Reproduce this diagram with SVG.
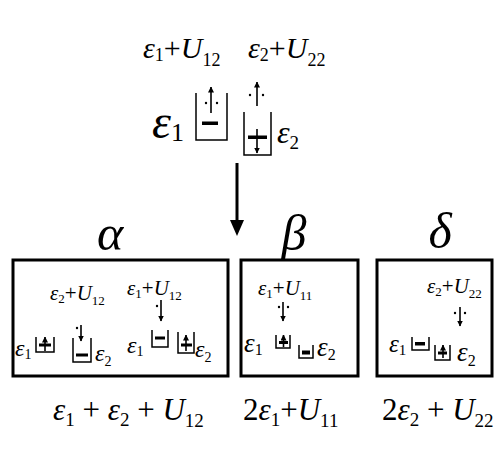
<svg xmlns="http://www.w3.org/2000/svg" width="498" height="450" viewBox="0 0 498 450" font-family="'Liberation Serif', 'DejaVu Serif', serif">
<defs>
<style>
text{font-family:"Liberation Serif","DejaVu Serif",serif;fill:#000}
.i{font-style:italic}
.well{fill:none;stroke:#000;stroke-width:1.5}
.box{fill:none;stroke:#000;stroke-width:3}
.ar{stroke:#000;stroke-width:1.6;fill:none;marker-end:url(#ah)}
</style>
<marker id="ah" viewBox="0 0 6 6" refX="5.5" refY="3" markerWidth="6" markerHeight="6" orient="auto" markerUnits="userSpaceOnUse"><path d="M0,0 L6,3 L0,6 z" fill="#000"/></marker>
</defs>
<rect width="498" height="450" fill="#fff"/>

<g id="initial-state">
<text x="143" y="58" font-size="30"><tspan class="i">ε</tspan><tspan font-size="18" dy="3">1</tspan><tspan dy="-3">+</tspan><tspan class="i">U</tspan><tspan font-size="18" dy="8">12</tspan></text>
<text x="248" y="58" font-size="30"><tspan class="i">ε</tspan><tspan font-size="18" dy="3">2</tspan><tspan dy="-3">+</tspan><tspan class="i">U</tspan><tspan font-size="18" dy="8">22</tspan></text>
<text x="152" y="138" font-size="48"><tspan class="i">ε</tspan><tspan font-size="26" dy="3">1</tspan></text>
<path class="well" d="M196 93V140H227V93"/>
<rect x="202" y="121.5" width="16" height="3.5"/>
<line class="ar" x1="211" y1="113" x2="211" y2="87"/>
<circle cx="206" cy="103" r="1.2"/><circle cx="217" cy="103" r="1.2"/>
<path class="well" d="M244 112V155H271V112"/>
<rect x="248" y="135.5" width="19" height="3.5"/>
<line class="ar" x1="257" y1="129" x2="257" y2="153"/>
<line class="ar" x1="257" y1="106" x2="257" y2="82"/>
<circle cx="250" cy="95" r="1.2"/><circle cx="263" cy="95" r="1.2"/>
<text x="277" y="143" font-size="32"><tspan class="i">ε</tspan><tspan font-size="19" dy="6">2</tspan></text>
</g>

<g id="connectors">
<line x1="237" y1="163" x2="237" y2="222" stroke="#000" stroke-width="3"/>
<polygon points="230,220 244,220 237,236" fill="#000"/>
</g>

<g id="alpha">
<text class="i" x="110" y="250" font-size="50" text-anchor="middle">α</text>
<rect class="box" x="13" y="260" width="215" height="116"/>
<text x="50" y="300" font-size="21"><tspan class="i">ε</tspan><tspan font-size="13" dy="3">2</tspan><tspan dy="-3">+</tspan><tspan class="i">U</tspan><tspan font-size="13" dy="5">12</tspan></text>
<text x="127" y="295" font-size="21"><tspan class="i">ε</tspan><tspan font-size="13" dy="3">1</tspan><tspan dy="-3">+</tspan><tspan class="i">U</tspan><tspan font-size="13" dy="5">12</tspan></text>
<text x="15" y="356" font-size="24"><tspan class="i">ε</tspan><tspan font-size="14" dy="3">1</tspan></text>
<path class="well" d="M36 337V352H54V337"/>
<rect x="39" y="343.5" width="12" height="3"/>
<line class="ar" x1="45" y1="351" x2="45" y2="337"/>
<path class="well" d="M73 338V362H91V338"/>
<rect x="76" y="353.5" width="12" height="3"/>
<line class="ar" x1="81" y1="325" x2="81" y2="341"/>
<circle cx="77" cy="328" r="1.2"/>
<text x="95" y="361" font-size="24"><tspan class="i">ε</tspan><tspan font-size="14" dy="5">2</tspan></text>
<line class="ar" x1="161" y1="300" x2="161" y2="321"/>
<circle cx="157" cy="306" r="1.2"/>
<text x="127" y="353" font-size="24"><tspan class="i">ε</tspan><tspan font-size="14" dy="3">1</tspan></text>
<path class="well" d="M152 330V347H168V330"/>
<rect x="155" y="336.5" width="10" height="3"/>
<path class="well" d="M178 332V353H194V332"/>
<rect x="181" y="343.5" width="11" height="3"/>
<line class="ar" x1="186" y1="351" x2="186" y2="335"/>
<text x="195" y="357" font-size="24"><tspan class="i">ε</tspan><tspan font-size="14" dy="5">2</tspan></text>
<text x="53" y="420" font-size="31"><tspan class="i">ε</tspan><tspan font-size="19" dy="6">1</tspan><tspan dy="-6"> + </tspan><tspan class="i">ε</tspan><tspan font-size="19" dy="6">2</tspan><tspan dy="-6"> + </tspan><tspan class="i">U</tspan><tspan font-size="19" dy="7">12</tspan></text>
</g>

<g id="beta">
<text class="i" x="294" y="250" font-size="50" text-anchor="middle">β</text>
<rect class="box" x="241" y="260" width="117" height="116"/>
<text x="258" y="295" font-size="21"><tspan class="i">ε</tspan><tspan font-size="13" dy="3">1</tspan><tspan dy="-3">+</tspan><tspan class="i">U</tspan><tspan font-size="13" dy="5">11</tspan></text>
<line class="ar" x1="283" y1="302" x2="283" y2="321"/>
<circle cx="279" cy="307" r="1.2"/><circle cx="288" cy="307" r="1.2"/>
<text x="244" y="352" font-size="27"><tspan class="i">ε</tspan><tspan font-size="16" dy="3">1</tspan></text>
<path class="well" d="M276 335V348H290V335"/>
<rect x="279" y="341" width="9" height="3"/>
<line class="ar" x1="283.5" y1="347" x2="283.5" y2="335"/>
<path class="well" d="M299 345V358H313V345"/>
<rect x="302" y="350.5" width="8" height="4"/>
<text x="317" y="356" font-size="27"><tspan class="i">ε</tspan><tspan font-size="16" dy="4">2</tspan></text>
<text x="243" y="420" font-size="31">2<tspan class="i">ε</tspan><tspan font-size="19" dy="6">1</tspan><tspan dy="-6">+</tspan><tspan class="i">U</tspan><tspan font-size="19" dy="7">11</tspan></text>
</g>

<g id="delta">
<text class="i" x="440" y="248" font-size="50" text-anchor="middle">δ</text>
<rect class="box" x="377" y="260" width="115" height="116"/>
<text x="427" y="293" font-size="21"><tspan class="i">ε</tspan><tspan font-size="13" dy="3">2</tspan><tspan dy="-3">+</tspan><tspan class="i">U</tspan><tspan font-size="13" dy="5">22</tspan></text>
<line class="ar" x1="460" y1="307" x2="460" y2="326"/>
<circle cx="455" cy="313" r="1.2"/><circle cx="465" cy="313" r="1.2"/>
<text x="389" y="352" font-size="25"><tspan class="i">ε</tspan><tspan font-size="15" dy="3">1</tspan></text>
<path class="well" d="M412 337V350H429V337"/>
<rect x="415" y="342" width="10" height="3.5"/>
<path class="well" d="M435 345V360H450V345"/>
<rect x="438" y="351.5" width="9" height="3"/>
<line class="ar" x1="443" y1="358" x2="443" y2="345"/>
<text x="457" y="361" font-size="27"><tspan class="i">ε</tspan><tspan font-size="16" dy="5">2</tspan></text>
<text x="382" y="420" font-size="31">2<tspan class="i">ε</tspan><tspan font-size="19" dy="6">2</tspan><tspan dy="-6"> + </tspan><tspan class="i">U</tspan><tspan font-size="19" dy="7">22</tspan></text>
</g>
</svg>
